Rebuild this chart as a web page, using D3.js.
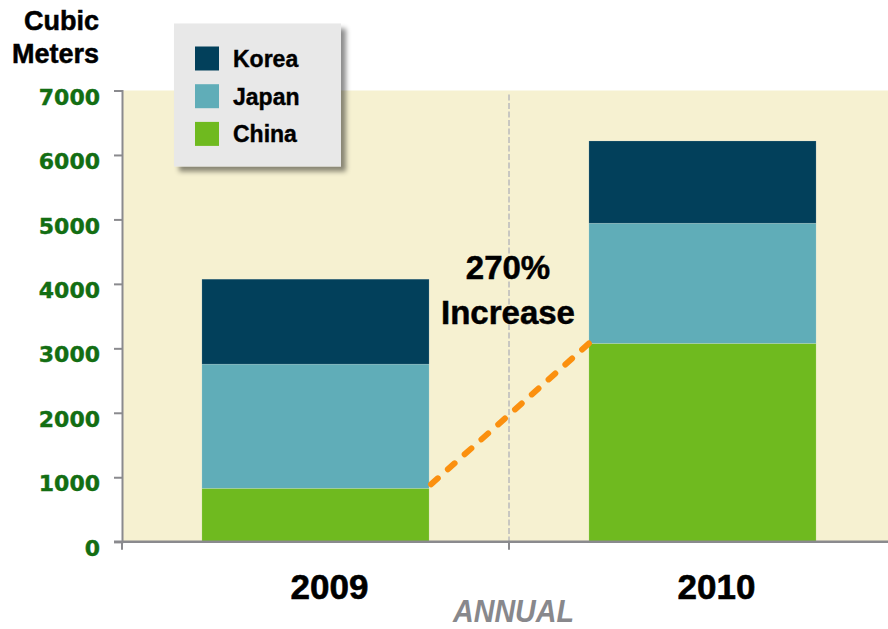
<!DOCTYPE html>
<html>
<head>
<meta charset="utf-8">
<script src="https://cdn.jsdelivr.net/npm/d3@7"></script>
<style>
  html, body { margin: 0; padding: 0; background: #fff; }
  svg { display: block; }
</style>
</head>
<body>
<svg id="chart" width="888" height="629"></svg>
<script>
// Imported volume by country, cubic meters
const years = ["2009", "2010"];
const countries = ["China", "Japan", "Korea"];
const chinaValues = [828, 3076];
const japanValues = [1927, 1865];
const koreaValues = [1318, 1276];
const yTicks = [0, 1000, 2000, 3000, 4000, 5000, 6000, 7000];
const legendOrder = ["Korea", "Japan", "China"];
const increaseLabel = ["270%", "Increase"];

const colors = { Korea: "#02405b", Japan: "#60adb8", China: "#6fba1f" };

const rows = years.map((yr, i) => ({
  year: yr, China: chinaValues[i], Japan: japanValues[i], Korea: koreaValues[i]
}));
const stacked = d3.stack().keys(countries)(rows);

const svg = d3.select("#chart");
const plotLeft = 122, plotRight = 896, plotTop = 90.5, plotBottom = 541.7;

const x = d3.scaleBand().domain(years).range([plotLeft, plotRight]).padding(0);
const barW = x.bandwidth() * 0.587;
const barX = d => x(d) + (x.bandwidth() - barW) / 2;
const y = d3.scaleLinear().domain([0, 7000]).range([plotBottom, plotTop]);

// plot area background
svg.append("rect")
  .attr("x", plotLeft).attr("y", y(7000))
  .attr("width", 888 - plotLeft).attr("height", y(0) - y(7000))
  .attr("fill", "#f6f1d1");

// category divider
svg.append("line")
  .attr("x1", x("2010")).attr("x2", x("2010"))
  .attr("y1", y(7000) + 4).attr("y2", y(0))
  .attr("stroke", "#bdbdbd").attr("stroke-width", 1.6)
  .attr("stroke-dasharray", "6 2.5");

// stacked bars
svg.append("g").selectAll("g")
  .data(stacked).join("g")
  .attr("fill", d => colors[d.key])
  .selectAll("rect")
  .data(d => d).join("rect")
  .attr("x", d => barX(d.data.year))
  .attr("y", d => y(d[1]))
  .attr("width", barW)
  .attr("height", d => y(d[0]) - y(d[1]))
  .attr("stroke", "rgba(255,255,255,0.25)").attr("stroke-width", 0.6);

// y axis
const yAxis = svg.append("g")
  .attr("transform", `translate(${plotLeft},0)`)
  .call(d3.axisLeft(y).tickValues(yTicks).tickSize(8).tickPadding(14).tickFormat(d3.format("d")));
yAxis.select(".domain").attr("stroke", "#8a8a8e").attr("stroke-width", 2);
yAxis.selectAll(".tick line").attr("stroke", "#8a8a8e").attr("stroke-width", 2);
yAxis.selectAll(".tick text")
  .attr("fill", "#136e13")
  .attr("stroke", "#136e13").attr("stroke-width", 0.4)
  .attr("dy", "0.62em")
  .style("font-family", "'DejaVu Sans', sans-serif")
  .style("font-weight", "bold")
  .style("font-size", "22px");

// x axis baseline with boundary ticks
const xAxis = svg.append("g").attr("transform", `translate(0,${plotBottom})`);
xAxis.append("line")
  .attr("x1", plotLeft - 8).attr("x2", 888)
  .attr("stroke", "#8a8a8e").attr("stroke-width", 2.5);
xAxis.selectAll("line.tk")
  .data(years).join("line").attr("class", "tk")
  .attr("x1", d => x(d)).attr("x2", d => x(d))
  .attr("y1", 0).attr("y2", 8)
  .attr("stroke", "#8a8a8e").attr("stroke-width", 2);

// year labels
svg.append("g").selectAll("text")
  .data(years).join("text")
  .attr("x", d => x(d) + x.bandwidth() / 2 + 14)
  .attr("y", 598.5)
  .attr("text-anchor", "middle")
  .style("font-family", "'Liberation Sans', Arial, sans-serif")
  .style("font-weight", "bold")
  .style("font-size", "35px")
  .attr("fill", "#000")
  .attr("stroke", "#000").attr("stroke-width", 0.6)
  .text(d => d);

// axis title
svg.append("text")
  .attr("x", 513.5).attr("y", 622)
  .attr("text-anchor", "middle")
  .attr("textLength", 121).attr("lengthAdjust", "spacingAndGlyphs")
  .style("font-family", "'Liberation Sans', Arial, sans-serif")
  .style("font-weight", "bold").style("font-style", "italic")
  .style("font-size", "31px")
  .attr("fill", "#88888c")
  .text("ANNUAL");

// unit title
svg.append("text")
  .attr("text-anchor", "end")
  .style("font-family", "'Liberation Sans', Arial, sans-serif")
  .style("font-weight", "bold")
  .style("font-size", "27px")
  .attr("fill", "#000")
  .attr("stroke", "#000").attr("stroke-width", 0.5)
  .selectAll("tspan")
  .data(["Cubic", "Meters"]).join("tspan")
  .attr("x", 99).attr("y", (d, i) => 29.5 + i * 33)
  .text(d => d);

// growth connector between China segments
svg.append("line")
  .attr("x1", barX("2009") + barW + 2).attr("y1", y(chinaValues[0]) - 4)
  .attr("x2", barX("2010")).attr("y2", y(chinaValues[1]))
  .attr("stroke", "#fb900f").attr("stroke-width", 6)
  .attr("stroke-linecap", "round")
  .attr("stroke-dasharray", "9 13.5");

// growth annotation
svg.append("text")
  .attr("text-anchor", "middle")
  .style("font-family", "'Liberation Sans', Arial, sans-serif")
  .style("font-weight", "bold")
  .style("font-size", "33px")
  .attr("fill", "#000")
  .attr("stroke", "#000").attr("stroke-width", 0.5)
  .selectAll("tspan")
  .data(increaseLabel).join("tspan")
  .attr("x", 508).attr("y", (d, i) => 279 + i * 45)
  .text(d => d);

// legend
const defs = svg.append("defs");
const f = defs.append("filter").attr("id", "shadow")
  .attr("x", "-10%").attr("y", "-10%").attr("width", "130%").attr("height", "130%");
f.append("feDropShadow")
  .attr("dx", 5).attr("dy", 5).attr("stdDeviation", 2.5)
  .attr("flood-color", "#000").attr("flood-opacity", 0.45);

const legend = svg.append("g").attr("transform", "translate(174,23.5)");
legend.append("rect")
  .attr("width", 167).attr("height", 143)
  .attr("fill", "#e8e8e8")
  .attr("filter", "url(#shadow)");
const item = legend.selectAll("g.item")
  .data(legendOrder).join("g").attr("class", "item")
  .attr("transform", (d, i) => `translate(21,${23 + i * 37.7})`);
item.append("rect")
  .attr("width", 24).attr("height", 24)
  .attr("fill", d => colors[d]);
item.append("text")
  .attr("x", 38).attr("y", 20.5)
  .style("font-family", "'Liberation Sans', Arial, sans-serif")
  .style("font-weight", "bold")
  .style("font-size", "23px")
  .attr("fill", "#000")
  .attr("stroke", "#000").attr("stroke-width", 0.4)
  .text(d => d);
</script>
</body>
</html>
